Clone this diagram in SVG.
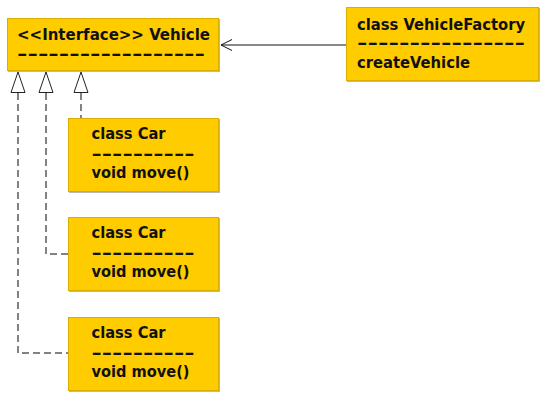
<svg xmlns="http://www.w3.org/2000/svg" width="547" height="400" viewBox="0 0 547 400">
<defs>
<style>
.box{fill:#FFCC00;stroke:#D9AE00;stroke-width:1}
.shadow{fill:#B8B8B8}
.t{font-family:"DejaVu Sans Condensed","DejaVu Sans","Liberation Sans",sans-serif;font-weight:bold;font-size:16px;fill:#111}
.dep{fill:none;stroke:#5a5a5a;stroke-width:1.5;stroke-dasharray:7 4}
.tri{fill:#fff;stroke:#222;stroke-width:1}
.assoc{fill:none;stroke:#111;stroke-width:1}
</style>
</defs>
<rect width="547" height="400" fill="#fff"/>
<g id="connectors">
<line class="assoc" x1="346" y1="45" x2="221" y2="45"/>
<polyline class="assoc" points="232,39.5 221,45 232,50.5"/>
<polyline class="dep" points="81,93 81,118"/>
<polyline class="dep" points="46,93 46,254 68,254"/>
<polyline class="dep" points="18,93 18,353 68,353"/>
<polygon class="tri" points="18,72 11,92.5 25,92.5"/>
<polygon class="tri" points="46,72 39,92.5 53,92.5"/>
<polygon class="tri" points="81,72 74,92.5 88,92.5"/>
</g>
<g id="vehicle">
<rect class="shadow" x="8" y="19" width="212" height="53"/>
<rect class="box" x="7.5" y="18.5" width="211" height="52"/>
<text class="t" x="17" y="40" textLength="193" lengthAdjust="spacingAndGlyphs">&lt;&lt;Interface&gt;&gt; Vehicle</text>
<text class="t" x="17" y="58.5" textLength="188" lengthAdjust="spacingAndGlyphs">------------------</text>
</g>
<g id="vehicleFactory">
<rect class="shadow" x="347" y="8" width="193" height="74"/>
<rect class="box" x="346.5" y="7.5" width="192" height="73"/>
<text class="t" x="357" y="30" textLength="168" lengthAdjust="spacingAndGlyphs">class VehicleFactory</text>
<text class="t" x="357" y="48" textLength="168" lengthAdjust="spacingAndGlyphs">----------------</text>
<text class="t" x="357" y="68" textLength="113" lengthAdjust="spacingAndGlyphs">createVehicle</text>
</g>
<g id="car1">
<rect class="shadow" x="69" y="119" width="151" height="74"/>
<rect class="box" x="68.5" y="118.5" width="150" height="73"/>
<text class="t" x="91.5" y="139" textLength="74" lengthAdjust="spacingAndGlyphs">class Car</text>
<text class="t" x="91.5" y="158.5" textLength="103" lengthAdjust="spacingAndGlyphs">----------</text>
<text class="t" x="91.5" y="178" textLength="98" lengthAdjust="spacingAndGlyphs">void move()</text>
</g>
<g id="car2">
<rect class="shadow" x="69" y="218" width="151" height="74"/>
<rect class="box" x="68.5" y="217.5" width="150" height="73"/>
<text class="t" x="91.5" y="238" textLength="74" lengthAdjust="spacingAndGlyphs">class Car</text>
<text class="t" x="91.5" y="257.5" textLength="103" lengthAdjust="spacingAndGlyphs">----------</text>
<text class="t" x="91.5" y="277" textLength="98" lengthAdjust="spacingAndGlyphs">void move()</text>
</g>
<g id="car3">
<rect class="shadow" x="69" y="318" width="151" height="74"/>
<rect class="box" x="68.5" y="317.5" width="150" height="73"/>
<text class="t" x="91.5" y="338" textLength="74" lengthAdjust="spacingAndGlyphs">class Car</text>
<text class="t" x="91.5" y="357.5" textLength="103" lengthAdjust="spacingAndGlyphs">----------</text>
<text class="t" x="91.5" y="377" textLength="98" lengthAdjust="spacingAndGlyphs">void move()</text>
</g>
</svg>
